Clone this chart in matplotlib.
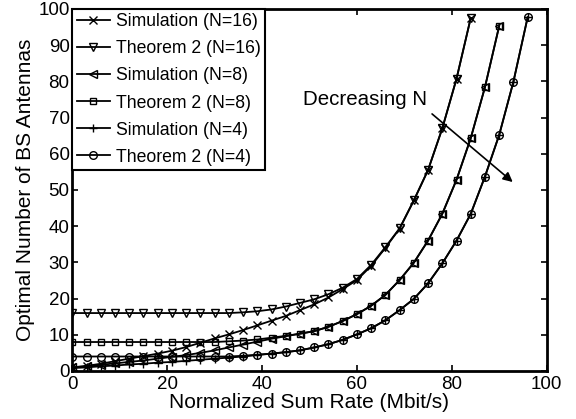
import numpy as np
import matplotlib
matplotlib.use("Agg")
import matplotlib.pyplot as plt

plt.rcParams['font.family'] = ['Liberation Sans', 'DejaVu Sans']

# ---- data ----
rate16 = [0, 3, 6, 9, 12, 15, 18, 21, 24, 27, 30, 33, 36, 39, 42, 45, 48, 51, 54, 57,
          60, 63, 66, 69, 72, 75, 78, 81, 84]
sim16 = [1.0, 1.4, 2.0, 2.7, 3.4, 4.1, 4.8, 5.6, 6.6, 7.8, 9.0, 10.1, 11.3, 12.6, 13.9,
         15.2, 16.8, 18.4, 20.3, 22.6, 25.1, 29.0, 34.0, 39.3, 47.1, 55.5, 67.0, 80.7, 97.5]
thm16 = [16.0, 16.0, 16.0, 16.0, 16.0, 16.0, 16.0, 16.0, 16.0, 16.0, 16.0, 16.0, 16.2,
         16.5, 17.0, 17.8, 18.8, 19.8, 21.2, 23.0, 25.4, 29.3, 34.2, 39.4, 47.1, 55.5,
         67.0, 80.7, 97.5]

rate8 = [0, 3, 6, 9, 12, 15, 18, 21, 24, 27, 30, 33, 36, 39, 42, 45, 48, 51, 54, 57,
         60, 63, 66, 69, 72, 75, 78, 81, 84, 87, 90]
sim8 = [1.0, 1.3, 1.7, 2.1, 2.5, 2.9, 3.4, 3.9, 4.4, 5.0, 5.7, 6.5, 7.3, 8.1, 8.9, 9.6,
        10.3, 11.0, 12.2, 13.8, 15.7, 18.0, 21.0, 25.1, 29.9, 36.0, 43.4, 52.8, 64.3,
        78.4, 95.3]
thm8 = [8.0, 8.0, 8.0, 8.0, 8.0, 8.0, 8.0, 8.0, 8.0, 8.0, 8.0, 8.2, 8.4, 8.7, 9.2, 9.7,
        10.3, 11.0, 12.2, 13.8, 15.7, 18.0, 21.0, 25.1, 29.9, 36.0, 43.4, 52.8, 64.3,
        78.4, 95.3]

rate4 = [0, 3, 6, 9, 12, 15, 18, 21, 24, 27, 30, 33, 36, 39, 42, 45, 48, 51, 54, 57,
         60, 63, 66, 69, 72, 75, 78, 81, 84, 87, 90, 93, 96]
sim4 = [0.8, 1.0, 1.3, 1.5, 1.8, 2.0, 2.3, 2.5, 2.8, 3.1, 3.4, 3.7, 4.0, 4.4, 4.8, 5.2,
        5.7, 6.5, 7.4, 8.6, 10.1, 11.8, 14.0, 16.8, 19.9, 24.2, 29.7, 36.0, 43.4, 53.7,
        65.2, 79.9, 97.7]
thm4 = [4.0, 4.0, 4.0, 4.0, 4.0, 4.0, 4.0, 4.0, 4.0, 4.0, 4.0, 4.0, 4.2, 4.5, 4.8, 5.2,
        5.7, 6.5, 7.4, 8.6, 10.1, 11.8, 14.0, 16.8, 19.9, 24.2, 29.7, 36.0, 43.4, 53.7,
        65.2, 79.9, 97.7]

labels = ["Simulation (N=16)", "Theorem 2 (N=16)", "Simulation (N=8)",
          "Theorem 2 (N=8)", "Simulation (N=4)", "Theorem 2 (N=4)"]

fig = plt.figure(figsize=(5.76, 4.19), dpi=100)
ax = fig.add_axes([0.1255, 0.1146, 0.8235, 0.864])

lw = 1.3
ms = 5.5
common = dict(color='black', lw=lw, markersize=ms, markeredgewidth=1.0)
ax.plot(rate16, sim16, marker='x', label=labels[0], **common)
ax.plot(rate16, thm16, marker='v', markerfacecolor='none', label=labels[1], **common)
ax.plot(rate8, sim8, marker='<', markerfacecolor='none', label=labels[2], **common)
ax.plot(rate8, thm8, marker='s', markerfacecolor='none', markersize=4.8,
        color='black', lw=lw, markeredgewidth=1.0, label=labels[3])
ax.plot(rate4, sim4, marker='+', label=labels[4], **common)
ax.plot(rate4, thm4, marker='o', markerfacecolor='none', label=labels[5], **common)

ax.set_xlim(0, 100)
ax.set_ylim(0, 100)
ax.set_xticks(np.arange(0, 101, 20))
ax.set_yticks(np.arange(0, 101, 10))
ax.tick_params(direction='in', top=True, right=True, length=4, width=1.2,
               labelsize=13.5)
ax.tick_params(axis='x', pad=3.5)
ax.tick_params(axis='y', pad=2.0)
for s in ax.spines.values():
    s.set_linewidth(2.0)

ax.set_xlabel("Normalized Sum Rate (Mbit/s)", fontsize=15, labelpad=0)
ax.set_ylabel("Optimal Number of BS Antennas", fontsize=15, labelpad=2)

leg = ax.legend(loc='upper left', fontsize=12.7, frameon=True, fancybox=False,
                framealpha=1, edgecolor='black', borderpad=0.25, labelspacing=0.57,
                handlelength=1.9, handletextpad=0.3, borderaxespad=0, numpoints=1)
leg.get_frame().set_linewidth(1.5)

ax.text(48.6, 74.9, "Decreasing N", fontsize=14.8, va='center', ha='left')
ax.annotate("", xy=(93.3, 51.7), xytext=(75.4, 71.5),
            arrowprops=dict(arrowstyle='-|>', color='black', lw=1.2,
                            mutation_scale=14))

fig.savefig("out.png", dpi=100)
